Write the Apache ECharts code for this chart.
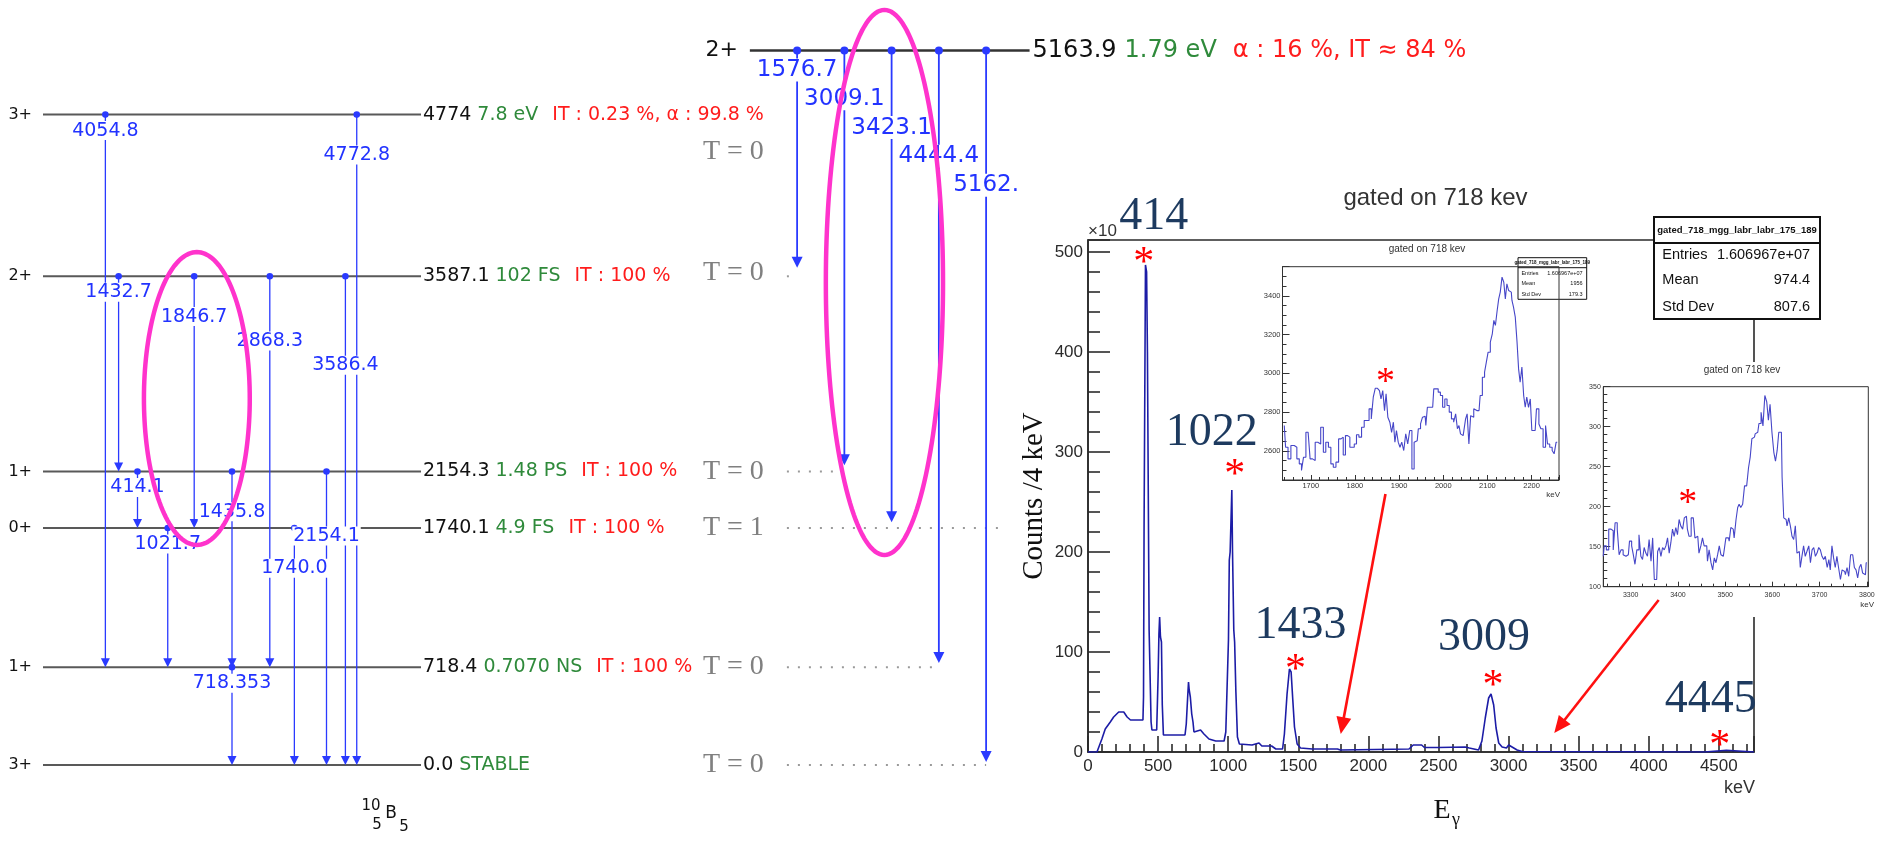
<!DOCTYPE html>
<html>
<head>
<meta charset="utf-8">
<title>10B level scheme and spectrum gated on 718 keV</title>
<script src="https://cdn.jsdelivr.net/npm/echarts@6.0.0/dist/echarts.min.js"></script>
<style>
html,body{margin:0;padding:0;background:#ffffff;overflow:hidden;}
#chart{width:1891px;height:841px;}
</style>
</head>
<body>
<div id="chart"></div>
<script>
/* ================= DATA ================= */
// 10B levels (keV)
const levelEnergies   = [0, 718.4, 1740.1, 2154.3, 3587.1, 4774];
const levelEnergyText = ['0.0', '718.4', '1740.1', '2154.3', '3587.1', '4774'];
const levelSpins      = ['3+', '1+', '0+', '1+', '2+', '3+'];
const levelHalfLives  = ['STABLE', '0.7070 NS', '4.9 FS', '1.48 PS', '102 FS', '7.8 eV'];
const levelDecays     = ['', 'IT : 100 %', 'IT : 100 %', 'IT : 100 %', 'IT : 100 %', 'IT : 0.23 %, α : 99.8 %'];
const levelIsospin    = ['T = 0', 'T = 0', 'T = 1', 'T = 0', 'T = 0', 'T = 0'];

// gamma transitions of the low-lying levels
const gammaText = ['4054.8', '4772.8', '1432.7', '1846.7', '2868.3', '3586.4', '414.1', '1435.8', '2154.1', '1021.7', '1740.0', '718.353'];
const gammaFrom = [4774, 4774, 3587.1, 3587.1, 3587.1, 3587.1, 2154.3, 2154.3, 2154.3, 1740.1, 1740.1, 718.4];
const gammaTo   = [718.4, 0, 2154.3, 1740.1, 718.4, 0, 1740.1, 718.4, 0, 718.4, 0, 0];

// the 5163.9 keV level and its decays
const highLevelEnergy   = 5163.9;
const highLevelText     = '5163.9';
const highLevelSpin     = '2+';
const highLevelHalfLife = '1.79 eV';
const highLevelDecay    = 'α : 16 %, IT ≈ 84 %';
const highGammaText = ['1576.7', '3009.1', '3423.1', '4444.4', '5162.'];
const highGammaTo   = [3587.1, 2154.3, 1740.1, 718.4, 0];

// spectrum gated on 718 keV: [E (keV), counts (x10^3) / 4 keV]
const spectrumData = [
 [0,0],[64,0],[70,0],[99,13],[123,23],[159,30],[183,35],[219,40],[255,40],[279,35],[303,32],[374,32],[392,32],
 [396,55],[400,225],[406,225],[410,487],[418,480],[424,400],[432,400],[436,122],[444,122],[450,30],[456,22],
 [490,22],[496,22],[500,75],[506,118],[511,135],[517,115],[524,110],[530,47],[538,17],[692,17],[701,28],[711,55],
 [717,70],[722,62],[730,55],[740,38],[749,30],[756,20],[768,22],[803,22],[827,18],[863,13],[911,11],[971,11],
 [983,20],[1002,112],[1008,192],[1014,200],[1026,262],[1031,200],[1040,122],[1046,110],[1055,60],[1066,15],
 [1080,8],[1090,7],[1170,7],[1180,9],[1220,9],[1240,6],[1310,6],[1340,3],[1388,3],[1401,18],[1420,58],[1437,83],
 [1449,80],[1461,52],[1473,25],[1492,8],[1516,4],[1600,3],[1780,3],[1800,2],[2290,3],[2320,7],[2380,7],[2400,4.5],
 [2500,4.5],[2512,5],[2690,5],[2720,4],[2786,2],[2810,11],[2834,34],[2858,54],[2875,58],[2894,47],[2911,24],
 [2930,9],[2954,5],[2985,4],[3001,7],[3025,5],[3061,2],[3097,0.5],[3110,0],[4400,0],[4410,1.8],[4554,1.8],
 [4565,0],[4751,0]
];

// inset 1 (1640-2260 keV)
const inset1Data = [
 [1640,2731],[1646,2619],[1651,2559],[1659,2628],[1666,2619],[1671,2559],[1677,2533],[1681,2499],[1686,2567],
 [1692,2696],[1696,2696],[1701,2559],[1707,2550],[1713,2645],[1719,2636],[1726,2722],[1731,2593],[1737,2645],
 [1743,2619],[1748,2533],[1754,2516],[1760,2542],[1766,2662],[1771,2671],[1776,2579],[1781,2679],[1786,2671],
 [1791,2619],[1796,2619],[1801,2636],[1806,2683],[1812,2671],[1818,2722],[1824,2757],[1829,2757],[1835,2817],
 [1839,2765],[1844,2877],[1848,2923],[1854,2923],[1857,2911],[1861,2868],[1865,2911],[1869,2808],[1872,2894],
 [1877,2774],[1881,2748],[1885,2696],[1889,2748],[1892,2645],[1896,2705],[1900,2645],[1904,2619],[1908,2645],
 [1913,2602],[1917,2688],[1922,2636],[1926,2705],[1932,2507],[1936,2645],[1941,2653],[1946,2714],[1951,2739],
 [1955,2774],[1959,2779],[1962,2731],[1966,2825],[1971,2825],[1976,2825],[1981,2920],[1986,2920],[1991,2903],
 [1996,2886],[2001,2825],[2006,2868],[2011,2834],[2016,2800],[2021,2765],[2026,2748],[2030,2791],[2034,2714],
 [2037,2731],[2041,2688],[2045,2679],[2049,2688],[2052,2765],[2056,2791],[2060,2636],[2064,2782],[2067,2774],
 [2071,2817],[2076,2808],[2081,2808],[2086,2886],[2091,2980],[2096,3006],[2099,3058],[2104,3109],[2109,3161],
 [2113,3204],[2116,3273],[2120,3247],[2124,3324],[2127,3384],[2131,3419],[2135,3496],[2139,3470],[2142,3384],
 [2146,3462],[2150,3427],[2154,3419],[2157,3376],[2161,3342],[2165,3290],[2169,3161],[2172,3023],[2176,2954],
 [2180,3032],[2184,2886],[2187,2825],[2191,2877],[2195,2825],[2199,2868],[2202,2705],[2208,2705],[2214,2817],
 [2219,2739],[2223,2714],[2229,2619],[2234,2731],[2238,2636],[2244,2619],[2249,2602],[2253,2585],[2258,2645]
];

// inset 2 (3240-3800 keV)
const inset2Data = [
 [3242,138],[3246,151],[3251,146],[3256,172],[3261,170],[3265,146],[3269,180],[3274,172],[3277,140],[3282,146],
 [3286,140],[3290,138],[3295,140],[3300,157],[3304,151],[3307,140],[3311,128],[3315,146],[3320,165],[3323,138],
 [3327,134],[3330,149],[3334,142],[3337,138],[3341,159],[3345,132],[3348,161],[3352,109],[3355,109],[3359,144],
 [3362,149],[3366,138],[3369,149],[3373,146],[3376,151],[3380,161],[3383,142],[3387,155],[3390,172],[3394,163],
 [3397,174],[3401,165],[3404,184],[3408,176],[3412,172],[3415,186],[3418,188],[3422,172],[3425,163],[3431,186],
 [3434,188],[3438,161],[3442,163],[3447,142],[3450,151],[3454,161],[3457,151],[3461,151],[3464,132],[3468,146],
 [3472,130],[3475,121],[3479,136],[3482,130],[3486,140],[3489,151],[3493,140],[3496,138],[3500,146],[3503,161],
 [3507,161],[3510,157],[3514,174],[3517,172],[3521,161],[3525,184],[3528,199],[3531,203],[3535,199],[3539,203],
 [3543,226],[3548,226],[3551,249],[3555,262],[3558,285],[3562,287],[3565,291],[3569,293],[3574,304],[3578,318],
 [3582,301],[3586,339],[3590,331],[3593,308],[3597,328],[3601,293],[3605,268],[3608,257],[3612,270],[3615,293],
 [3619,293],[3622,237],[3626,186],[3629,184],[3633,176],[3636,186],[3640,176],[3643,163],[3647,159],[3650,176],
 [3654,142],[3657,144],[3661,124],[3664,138],[3668,151],[3671,138],[3675,144],[3679,151],[3682,130],[3686,146],
 [3689,149],[3693,138],[3696,142],[3700,149],[3703,146],[3707,138],[3710,134],[3714,138],[3718,124],[3721,134],
 [3724,121],[3728,151],[3731,136],[3735,124],[3738,138],[3742,124],[3746,109],[3749,121],[3753,119],[3756,115],
 [3760,124],[3763,113],[3768,140],[3772,138],[3775,124],[3779,121],[3782,111],[3786,124],[3789,128],[3793,117],
 [3797,115],[3800,130]
];

// marked peaks in the main spectrum
const peakNames      = ['414', '1022', '1433', '3009', '4445'];
const peakMarkEnergy = [398, 1047, 1480, 2889, 4507];
const peakMarkCounts = [495, 283, 88, 72, 12];
const inset1Mark = [1869, 2982];
const inset2Mark = [3421, 211];
// red arrows: [tail E, tail counts, tip E, tip counts]
const arrowData = [[2122, 258, 1803, 18], [4071, 152, 3326, 19]];

// statistics boxes
const statsTitle = 'gated_718_mgg_labr_labr_175_189';
const statsMain   = [['Entries', '1.606967e+07'], ['Mean', '974.4'], ['Std Dev', '807.6']];
const statsInset1 = [['Entries', '1.606967e+07'], ['Mean', '1956'], ['Std Dev', '179.3']];
const statsInset2 = [['Entries', '1.606967e+07'], ['Mean', '3526'], ['Std Dev', '149.3']];

/* ================= LAYOUT / STYLE ================= */
const gammaColumn = [16.5, 83, 20, 40, 60, 80, 25, 50, 75, 33, 66.5, 50];
const gammaSlot   = [0, 1, 0, 1, 2, 3, 0, 1, 2, 0, 1, 0];
const levelCols = [0, 100];
const highLevelCols = [187, 261];
const highGammaColumn = [199.5, 212, 224.5, 237, 249.5];
const highGammaSlot = [0, 1, 2, 3, 4];
const isoLabelCol = 190.7, isoDotStartCol = 196.8;
const isoDotEndCol = [249.5, 237, 253.2, 212, 198.2, -1];
const isoLabelDy = [0, 0, 0, 0, -4, 37];
const ellipseLeft  = [40.7, 2690, 14.0, 1075];
const ellipseRight = [222.6, 3481, 15.5, 1978];
const peakLabelDx = [10, -23, 5, -9, -9];
const peakLabelDy = [-40, -36, -38, -42, -40];

const SCHEME = 'DejaVu Sans';
const SERIF = 'Liberation Serif';
const SANS = 'Liberation Sans';
const BLUE = '#2a3aff';
const BLUE_TXT = '#2233ff';
const GREEN = '#2f8a3b';
const RED = '#ff1c1c';
const MAGENTA = '#ff33cc';
const NAVY = '#1d3a5f';
const plainNumber = function (v) { return String(v); };

function txt(s) { // text style helper with both naming conventions
  const o = Object.assign({}, s);
  if (o.align) o.textAlign = o.align;
  if (o.verticalAlign) o.textVerticalAlign = o.verticalAlign;
  return o;
}

/* ================= RENDERERS ================= */
function renderLevel(params, api) {
  const i = params.dataIndex;
  const E = api.value(1);
  const a = api.coord([levelCols[0], E]), b = api.coord([levelCols[1], E]);
  let s = '{e|' + levelEnergyText[i] + '}{h|' + levelHalfLives[i] + '}';
  if (levelDecays[i]) s += '{d|' + levelDecays[i] + '}';
  return {type: 'group', children: [
    {type: 'line', shape: {x1: a[0], y1: a[1], x2: b[0], y2: b[1]}, style: {stroke: '#595959', lineWidth: 2}},
    {type: 'text', x: a[0] - 11, y: a[1], style: txt({text: levelSpins[i], fill: '#111', fontSize: 16, fontFamily: SCHEME, align: 'right', verticalAlign: 'middle'})},
    {type: 'text', x: b[0] + 2, y: b[1], style: txt({text: s, align: 'left', verticalAlign: 'middle',
      rich: {e: {fill: '#111', fontSize: 19, fontFamily: SCHEME},
             h: {fill: GREEN, fontSize: 19, fontFamily: SCHEME, padding: [0, 0, 0, 6]},
             d: {fill: RED, fontSize: 19, fontFamily: SCHEME, padding: [0, 0, 0, 14]}}})}
  ]};
}

function renderHighLevel(params, api) {
  const E = api.value(1);
  const a = api.coord([highLevelCols[0], E]), b = api.coord([highLevelCols[1], E]);
  const s = '{e|' + highLevelText + '}{h|' + highLevelHalfLife + '}{d|' + highLevelDecay + '}';
  return {type: 'group', children: [
    {type: 'line', shape: {x1: a[0], y1: a[1], x2: b[0], y2: b[1]}, style: {stroke: '#333', lineWidth: 2.5}},
    {type: 'text', x: a[0] - 12, y: a[1], style: txt({text: highLevelSpin, fill: '#111', fontSize: 22, fontFamily: SCHEME, align: 'right', verticalAlign: 'middle'})},
    {type: 'text', x: b[0] + 3, y: b[1], style: txt({text: s, align: 'left', verticalAlign: 'middle',
      rich: {e: {fill: '#111', fontSize: 24, fontFamily: SCHEME},
             h: {fill: GREEN, fontSize: 24, fontFamily: SCHEME, padding: [0, 0, 0, 8]},
             d: {fill: RED, fontSize: 24, fontFamily: SCHEME, padding: [0, 0, 0, 16]}}})}
  ]};
}

function renderIso(params, api) {
  const i = params.dataIndex;
  const E = api.value(1), endCol = api.value(2), dy = api.value(3);
  const lab = api.coord([isoLabelCol, E]);
  const ch = [{type: 'text', x: lab[0], y: lab[1] + dy, style: txt({text: levelIsospin[i], fill: '#808080', fontSize: 28, fontFamily: SERIF, align: 'right', verticalAlign: 'middle'})}];
  if (endCol > 0) {
    const s = api.coord([isoDotStartCol, E]), e = api.coord([endCol, E]);
    ch.push({type: 'line', shape: {x1: s[0], y1: s[1], x2: e[0], y2: e[1]}, style: {stroke: '#9a9a9a', lineWidth: 2, lineDash: [2, 9]}});
  }
  return {type: 'group', children: ch};
}

function makeGammaRenderer(cfg, texts) {
  return function (params, api) {
    const i = params.dataIndex;
    const col = api.value(0), Ef = api.value(1), Et = api.value(2), slot = api.value(3);
    const s = api.coord([col, Ef]), e = api.coord([col, Et]);
    return {type: 'group', children: [
      {type: 'line', shape: {x1: s[0], y1: s[1], x2: e[0], y2: e[1] - cfg.head + 1}, style: {stroke: BLUE, lineWidth: cfg.lw}},
      {type: 'circle', shape: {cx: s[0], cy: s[1], r: cfg.dot}, style: {fill: BLUE}},
      {type: 'polygon', shape: {points: [[e[0] - cfg.headW / 2, e[1] - cfg.head], [e[0] + cfg.headW / 2, e[1] - cfg.head], [e[0], e[1]]]}, style: {fill: BLUE}},
      {type: 'text', z2: 10, x: s[0], y: s[1] + cfg.off0 + slot * cfg.offStep,
       style: txt({text: texts[i], fill: BLUE_TXT, fontSize: cfg.fs, fontFamily: SCHEME, align: 'center', verticalAlign: 'middle', backgroundColor: '#ffffff', padding: [0, 1]})}
    ]};
  };
}
const LEFT_STYLE  = {lw: 1.3, dot: 3.3, head: 9, headW: 9, fs: 19, off0: 16, offStep: 24.3};
const RIGHT_STYLE = {lw: 1.8, dot: 4, head: 11, headW: 11, fs: 23, off0: 19.4, offStep: 28.8};

function renderEllipse(params, api) {
  const c = api.coord([api.value(0), api.value(1)]);
  const px = api.coord([api.value(0) + api.value(2), api.value(1)]);
  const py = api.coord([api.value(0), api.value(1) + api.value(3)]);
  const rx = Math.abs(px[0] - c[0]), ry = Math.abs(py[1] - c[1]);
  const pts = [];
  for (let k = 0; k < 160; k++) { const t = k / 160 * 2 * Math.PI; pts.push([c[0] + rx * Math.cos(t), c[1] + ry * Math.sin(t)]); }
  return {type: 'polygon', shape: {points: pts}, style: {fill: 'none', stroke: MAGENTA, lineWidth: 4.5}};
}

const STAR_SIZE = 42, STAR_SHIFT = 7;
function renderPeak(params, api) {
  const i = params.dataIndex;
  const p = api.coord([api.value(0), api.value(1)]);
  return {type: 'group', children: [
    {type: 'text', x: p[0], y: p[1] + STAR_SHIFT, style: txt({text: '*', fill: '#ff0000', fontSize: STAR_SIZE, fontFamily: SERIF, align: 'center', verticalAlign: 'middle'})},
    {type: 'text', x: p[0] + peakLabelDx[i], y: p[1] + peakLabelDy[i], style: txt({text: peakNames[i], fill: NAVY, fontSize: 46, fontFamily: SERIF, align: 'center', verticalAlign: 'middle'})}
  ]};
}
function renderStar(params, api) {
  const p = api.coord([api.value(0), api.value(1)]);
  return {type: 'text', x: p[0], y: p[1] + 6, style: txt({text: '*', fill: '#ff0000', fontSize: 38, fontFamily: SERIF, align: 'center', verticalAlign: 'middle'})};
}
function renderArrow(params, api) {
  const t = api.coord([api.value(0), api.value(1)]);
  const h = api.coord([api.value(2), api.value(3)]);
  const dx = h[0] - t[0], dy = h[1] - t[1], L = Math.hypot(dx, dy), ux = dx / L, uy = dy / L;
  const HL = 17, HW = 7.5;
  const bx = h[0] - ux * HL, by = h[1] - uy * HL;
  return {type: 'group', children: [
    {type: 'line', shape: {x1: t[0], y1: t[1], x2: bx + ux * 2, y2: by + uy * 2}, style: {stroke: '#ff1010', lineWidth: 2.6}},
    {type: 'polygon', shape: {points: [[h[0], h[1]], [bx - uy * HW, by + ux * HW], [bx + uy * HW, by - ux * HW]]}, style: {fill: '#ff1010'}}
  ]};
}

/* ================= AXES ================= */
function hiddenAxis(gi, min, max) { return {gridIndex: gi, type: 'value', min: min, max: max, show: false, splitLine: {show: false}}; }
function rootAxis(gi, o) {
  return Object.assign({
    gridIndex: gi, type: 'value', splitLine: {show: false}, minorSplitLine: {show: false},
    axisLine: {show: true, onZero: false, lineStyle: {color: '#333', width: 1}},
    axisTick: {show: true, inside: true, length: 5, lineStyle: {color: '#333', width: 1}},
    minorTick: {show: true, splitNumber: 5, length: 3, lineStyle: {color: '#333', width: 1}},
    axisLabel: {fontFamily: SANS, fontSize: 7.5, color: '#333', margin: 2, showMinLabel: false, showMaxLabel: false, formatter: plainNumber}
  }, o);
}

const mainX = rootAxis(2, {
  min: 0, max: 4751, interval: 500,
  axisLine: {show: true, onZero: false, lineStyle: {color: '#2a2a2a', width: 1.6}},
  axisTick: {show: true, inside: true, length: 16, lineStyle: {color: '#2a2a2a', width: 1.6}},
  minorTick: {show: true, splitNumber: 5, length: 8, lineStyle: {color: '#2a2a2a', width: 1.6}},
  axisLabel: {fontFamily: SANS, fontSize: 17, color: '#2a2a2a', margin: 6, showMinLabel: true, showMaxLabel: false, formatter: plainNumber}
});
const mainY = rootAxis(2, {
  min: 0, max: 512, interval: 100,
  axisLine: {show: true, onZero: false, lineStyle: {color: '#2a2a2a', width: 1.6}},
  axisTick: {show: true, inside: true, length: 22, lineStyle: {color: '#2a2a2a', width: 1.6}},
  minorTick: {show: true, splitNumber: 5, length: 12, lineStyle: {color: '#2a2a2a', width: 1.6}},
  axisLabel: {fontFamily: SANS, fontSize: 17, color: '#2a2a2a', margin: 5, showMinLabel: true, showMaxLabel: false, formatter: plainNumber},
  name: 'Counts /4 keV', nameLocation: 'middle', nameRotate: 90, nameGap: 39,
  nameTextStyle: {fontFamily: SERIF, fontSize: 29, color: '#111'}
});
const in1X = rootAxis(3, {min: 1636, max: 2262, minInterval: 100, maxInterval: 100, splitNumber: 6, z: 4,
  axisLabel: {fontFamily: SANS, fontSize: 7.5, color: '#333', margin: 2, showMinLabel: false, showMaxLabel: false, formatter: plainNumber}});
const in1Y = rootAxis(3, {min: 2450, max: 3550, minInterval: 200, maxInterval: 200, splitNumber: 5, z: 4,
  axisTick: {show: true, inside: true, length: 7, lineStyle: {color: '#333', width: 1}},
  minorTick: {show: true, splitNumber: 4, length: 4, lineStyle: {color: '#333', width: 1}}});
const in2X = rootAxis(4, {min: 3242, max: 3803, minInterval: 100, maxInterval: 100, splitNumber: 6, z: 4,
  minorTick: {show: true, splitNumber: 4, length: 3, lineStyle: {color: '#333', width: 1}},
  axisLabel: {fontFamily: SANS, fontSize: 7, color: '#333', margin: 5, showMinLabel: false, showMaxLabel: false, formatter: plainNumber}});
const in2Y = rootAxis(4, {min: 100, max: 350, interval: 50, z: 4,
  axisTick: {show: true, inside: true, length: 7, lineStyle: {color: '#333', width: 1}},
  minorTick: {show: true, splitNumber: 5, length: 4, lineStyle: {color: '#333', width: 1}},
  axisLabel: {fontFamily: SANS, fontSize: 7, color: '#333', margin: 2.5, showMinLabel: true, showMaxLabel: true, formatter: plainNumber}});

/* ================= GRAPHIC ANNOTATIONS ================= */
function gText(text, x, y, s, z) {
  return {type: 'text', x: x, y: y, z: z || 7, silent: true, style: txt(Object.assign({text: text, fill: '#111', fontFamily: SANS, align: 'center', verticalAlign: 'middle'}, s))};
}
function statsBox(x, y, w, h, headH, title, rows, fsTitle, fs, rowY, z) {
  const ch = [
    {type: 'rect', shape: {x: x, y: y, width: w, height: h}, style: {fill: '#fff', stroke: '#111', lineWidth: fs > 10 ? 2 : 1}},
    {type: 'line', shape: {x1: x, y1: y + headH, x2: x + w, y2: y + headH}, style: {stroke: '#111', lineWidth: fs > 10 ? 2 : 1}},
    {type: 'text', x: x + w / 2, y: y + headH / 2, style: txt({text: title, fill: '#111', fontSize: fsTitle, fontWeight: 'bold', fontFamily: SANS, align: 'center', verticalAlign: 'middle'})}
  ];
  rows.forEach(function (r, k) {
    ch.push({type: 'text', x: x + w * 0.05, y: y + rowY[k], style: txt({text: r[0], fill: '#111', fontSize: fs, fontFamily: SANS, align: 'left', verticalAlign: 'middle'})});
    ch.push({type: 'text', x: x + w * 0.94, y: y + rowY[k], style: txt({text: r[1], fill: '#111', fontSize: fs, fontFamily: SANS, align: 'right', verticalAlign: 'middle'})});
  });
  return {type: 'group', z: z, silent: true, children: ch};
}

const graphics = [
  // white backdrop of the second inset pad
  {type: 'rect', z: 3, silent: true, shape: {x: 1590, y: 362, width: 301, height: 255}, style: {fill: '#ffffff'}},
  gText('gated on 718 kev', 1435.5, 198, {fontSize: 24, fill: '#333'}),
  gText('×10', 1088, 231, {fontSize: 17, align: 'left', fill: '#333'}),
  gText('E', 1442, 811, {fontSize: 28, fontFamily: SERIF}),
  gText('γ', 1456, 820, {fontSize: 18, fontFamily: SERIF}),
  gText('keV', 1755, 788, {fontSize: 18, align: 'right', fill: '#333'}),
  gText('gated on 718 kev', 1427, 249, {fontSize: 10, fill: '#333'}),
  gText('keV', 1560, 495, {fontSize: 8, align: 'right', fill: '#333'}),
  gText('gated on 718 kev', 1742, 370, {fontSize: 10, fill: '#333'}, 8),
  gText('keV', 1874, 605, {fontSize: 8, align: 'right', fill: '#333'}, 8),
  statsBox(1654, 217, 166, 102, 26, statsTitle, statsMain, 9.5, 14.5, [38, 63, 90], 9),
  statsBox(1518, 257.7, 68.7, 41.6, 10, statsTitle, statsInset1, 4.5, 5.5, [15.3, 25.8, 36.3], 9),
  statsBox(1829.3, 377.7, 72, 40.6, 9, statsTitle, statsInset2, 4.5, 5.5, [15, 24.8, 35.3], 9),
  // nucleus label 10 5 B 5
  gText('10', 371, 806, {fontSize: 15, fontFamily: SCHEME}),
  gText('5', 377, 825, {fontSize: 15, fontFamily: SCHEME}),
  gText('B', 391, 814, {fontSize: 17, fontFamily: SCHEME}),
  gText('5', 404, 827, {fontSize: 15, fontFamily: SCHEME})
];

/* ================= OPTION ================= */
const option = {
  animation: false,
  backgroundColor: '#ffffff',
  grid: [
    {left: 43, top: 83.8, width: 1134, height: 681.2, show: false, outerBoundsMode: 'none'},
    {left: 43, top: 45.6, width: 1134, height: 716.4, show: false, outerBoundsMode: 'none'},
    {left: 1088, top: 240, width: 666, height: 512, show: true, borderColor: '#2a2a2a', borderWidth: 1.6, backgroundColor: 'rgba(0,0,0,0)', outerBoundsMode: 'none'},
    {left: 1282.5, top: 266.7, width: 276.5, height: 213.3, show: true, borderColor: '#333', borderWidth: 1, z: 4, outerBoundsMode: 'none'},
    {left: 1603.3, top: 386.7, width: 265, height: 200, show: true, borderColor: '#333', borderWidth: 1, z: 4, outerBoundsMode: 'none'}
  ],
  xAxis: [hiddenAxis(0, 0, 300), hiddenAxis(1, 0, 300), mainX, in1X, in2X],
  yAxis: [hiddenAxis(0, 0, 5000), hiddenAxis(1, 0, 5200), mainY, in1Y, in2Y],
  graphic: {elements: graphics},
  series: [
    {type: 'custom', name: 'levels', xAxisIndex: 0, yAxisIndex: 0, z: 2, silent: true, renderItem: renderLevel,
     data: levelEnergies.map(function (E) { return [levelCols[0], E]; })},
    {type: 'custom', name: 'isospin', xAxisIndex: 0, yAxisIndex: 0, z: 2, silent: true, renderItem: renderIso,
     data: levelEnergies.map(function (E, i) { return [isoLabelCol, E, isoDotEndCol[i], isoLabelDy[i]]; })},
    {type: 'custom', name: 'gammas', xAxisIndex: 0, yAxisIndex: 0, z: 3, silent: true, renderItem: makeGammaRenderer(LEFT_STYLE, gammaText),
     data: gammaText.map(function (t, i) { return [gammaColumn[i], gammaFrom[i], gammaTo[i], gammaSlot[i]]; })},
    {type: 'custom', name: 'highLevel', xAxisIndex: 1, yAxisIndex: 1, z: 2, silent: true, renderItem: renderHighLevel,
     data: [[highLevelCols[0], highLevelEnergy]]},
    {type: 'custom', name: 'highGammas', xAxisIndex: 1, yAxisIndex: 1, z: 3, silent: true, renderItem: makeGammaRenderer(RIGHT_STYLE, highGammaText),
     data: highGammaText.map(function (t, i) { return [highGammaColumn[i], highLevelEnergy, highGammaTo[i], highGammaSlot[i]]; })},
    {type: 'custom', name: 'ellipseL', xAxisIndex: 0, yAxisIndex: 0, z: 6, silent: true, renderItem: renderEllipse, data: [ellipseLeft]},
    {type: 'custom', name: 'ellipseR', xAxisIndex: 1, yAxisIndex: 1, z: 6, silent: true, renderItem: renderEllipse, data: [ellipseRight]},
    {type: 'line', name: 'spectrum', xAxisIndex: 2, yAxisIndex: 2, z: 2, silent: true, data: spectrumData,
     symbol: 'none', showSymbol: false, lineStyle: {color: '#1c1ca6', width: 1.6}},
    {type: 'custom', name: 'peaks', xAxisIndex: 2, yAxisIndex: 2, z: 7, silent: true, renderItem: renderPeak,
     data: peakMarkEnergy.map(function (e, i) { return [e, peakMarkCounts[i]]; })},
    {type: 'custom', name: 'arrows', xAxisIndex: 2, yAxisIndex: 2, z: 8, silent: true, renderItem: renderArrow, data: arrowData},
    {type: 'line', name: 'inset1', xAxisIndex: 3, yAxisIndex: 3, z: 5, silent: true, data: inset1Data, step: 'middle',
     symbol: 'none', showSymbol: false, lineStyle: {color: '#4646c8', width: 1.1}},
    {type: 'custom', name: 'inset1Mark', xAxisIndex: 3, yAxisIndex: 3, z: 7, silent: true, renderItem: renderStar, data: [inset1Mark]},
    {type: 'line', name: 'inset2', xAxisIndex: 4, yAxisIndex: 4, z: 5, silent: true, data: inset2Data, step: 'middle',
     symbol: 'none', showSymbol: false, lineStyle: {color: '#4646c8', width: 1.1}},
    {type: 'custom', name: 'inset2Mark', xAxisIndex: 4, yAxisIndex: 4, z: 7, silent: true, renderItem: renderStar, data: [inset2Mark]}
  ]
};

const chart = echarts.init(document.getElementById('chart'), null, {renderer: 'canvas', width: 1891, height: 841});
chart.setOption(option);
</script>
</body>
</html>
